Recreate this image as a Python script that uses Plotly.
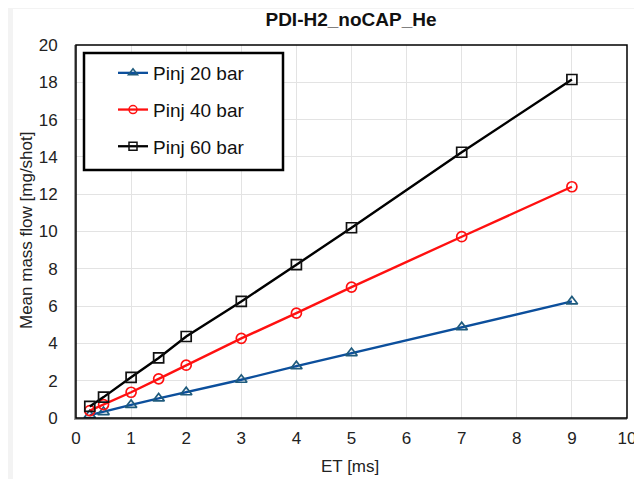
import plotly.graph_objects as go

et = [0.25, 0.5, 1, 1.5, 2, 3, 4, 5, 7, 9]
pinj20 = [0.15, 0.32, 0.7, 1.05, 1.38, 2.05, 2.78, 3.48, 4.87, 6.25]
pinj40 = [0.4, 0.72, 1.38, 2.1, 2.83, 4.27, 5.62, 7.02, 9.72, 12.4]
pinj60 = [0.62, 1.12, 2.18, 3.22, 4.37, 6.25, 8.22, 10.2, 14.25, 18.15]
series_names = ["Pinj 20 bar", "Pinj 40 bar", "Pinj 60 bar"]
x_ticks = list(range(0, 11))
y_ticks = list(range(0, 21, 2))

line_colors = ["#0c4f9c", "#ff1010", "#000000"]
marker_colors = ["#1f5b7d", "#ff1010", "#111111"]
symbols = ["triangle-up-open", "circle-open", "square-open"]

FONT = "Liberation Sans, Arial, sans-serif"

OFF = 8  # page body margin
FW, FH = 642 - OFF, 479 - OFF
# plot area in window pixels
L, R, T, B = 76, 627, 45, 418
W, H = R - L, B - T


def px(xw):
    return (xw - L) / W


def py(yw):
    return (B - yw) / H


fig = go.Figure()
for i, (name, vals) in enumerate(zip(series_names, [pinj20, pinj40, pinj60])):
    fig.add_trace(go.Scatter(
        x=et, y=vals, name=name, mode="lines+markers", showlegend=False,
        line=dict(color=line_colors[i], width=2.4),
        marker=dict(symbol=symbols[i], size=10, color=marker_colors[i],
                    line=dict(width=1.7, color=marker_colors[i])),
    ))
# legend entries (smaller markers like the reference legend)
for i, name in enumerate(series_names):
    fig.add_trace(go.Scatter(
        x=[None], y=[None], name=name, mode="lines+markers",
        line=dict(color=line_colors[i], width=2.3),
        marker=dict(symbol=symbols[i], size=8, color=marker_colors[i],
                    line=dict(width=1.5, color=marker_colors[i])),
        legendgroup=f"g{i}",
    ))

# white card on a light-gray background
fig.add_shape(type="rect", xref="paper", yref="paper",
              x0=px(13), x1=px(638), y0=py(490), y1=py(9),
              fillcolor="white", line=dict(width=0), layer="below")
# plot-area border
fig.add_shape(type="rect", xref="paper", yref="paper",
              x0=0, x1=1, y0=0, y1=1,
              line=dict(color="black", width=1.5), fillcolor="rgba(0,0,0,0)")
# legend box
fig.add_shape(type="rect", xref="paper", yref="paper",
              x0=px(84), x1=px(283), y0=py(170), y1=py(53),
              line=dict(color="black", width=2.5), fillcolor="white", layer="above")

fig.add_annotation(text="Mean mass flow [mg/shot]", textangle=-90,
                   xref="paper", yref="paper", x=px(26), y=py(231),
                   xanchor="center", yanchor="middle", showarrow=False,
                   font=dict(family=FONT, size=17, color="#222222"))
fig.add_annotation(text="ET [ms]",
                   xref="paper", yref="paper", x=px(350), y=py(466),
                   xanchor="center", yanchor="middle", showarrow=False,
                   font=dict(family=FONT, size=17, color="#222222"))

fig.update_layout(
    width=FW, height=FH,
    margin=dict(l=L - OFF, r=(642 - R), t=T - OFF, b=(479 - B), autoexpand=False),
    paper_bgcolor="#f3f3f3",
    plot_bgcolor="white",
    font=dict(family=FONT, size=17, color="#222222"),
    title=dict(text="<b>PDI-H2_noCAP_He</b>", x=(351 - OFF) / FW, xanchor="center",
               y=1 - (19 - OFF) / FH, yanchor="middle",
               font=dict(family=FONT, size=19, color="#111111")),
    showlegend=True,
    legend=dict(x=px(113), y=py(54), xanchor="left", yanchor="top",
                bgcolor="rgba(0,0,0,0)", borderwidth=0,
                font=dict(family=FONT, size=19, color="#111111"),
                tracegroupgap=9, traceorder="grouped",
                itemwidth=30),
    xaxis=dict(range=[0, 10], tickvals=x_ticks, showgrid=True, gridcolor="#e3e3e3",
               gridwidth=1, showline=True, linecolor="#9a9a9a", linewidth=2,
               ticks="", zeroline=False, tickfont=dict(size=17),
               automargin=False, ticklabelstandoff=4),
    yaxis=dict(range=[0, 20], tickvals=y_ticks, showgrid=True, gridcolor="#e3e3e3",
               gridwidth=1, showline=True, linecolor="#9a9a9a", linewidth=2,
               ticks="", zeroline=False, tickfont=dict(size=17),
               automargin=False, ticklabelstandoff=13),
)

fig.write_html("out.html")
